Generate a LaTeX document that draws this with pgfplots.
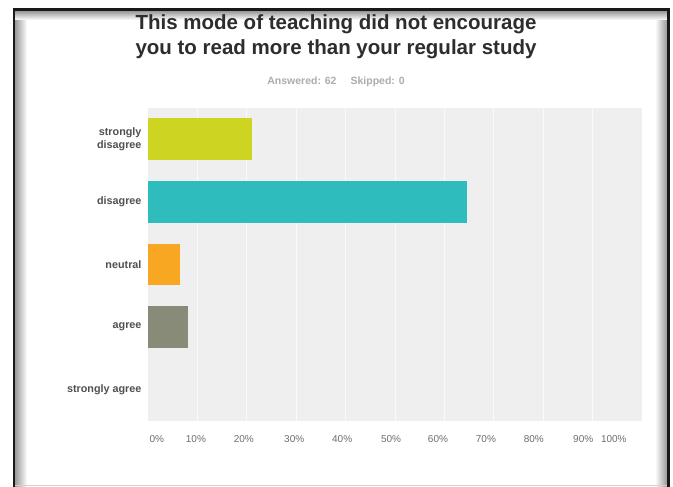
\documentclass[border=0pt]{standalone}
\usepackage{pgfplots}
\pgfplotsset{compat=1.18}
\usepackage{fontspec}
\setmainfont{Liberation Sans}
\definecolor{sdis}{RGB}{205,212,34}
\definecolor{dis}{RGB}{47,188,188}
\definecolor{neu}{RGB}{247,167,33}
\definecolor{agr}{RGB}{137,139,121}
\definecolor{plotbg}{RGB}{239,239,239}
\definecolor{gridc}{RGB}{250,250,250}
\definecolor{titlec}{RGB}{45,45,45}
\definecolor{labc}{RGB}{80,80,80}
\definecolor{tickc}{RGB}{110,110,110}
\begin{document}
\begin{tikzpicture}[x=1pt,y=1pt]
\useasboundingbox (0,0) rectangle (673,487);
\fill[white] (0,0) rectangle (673,487);
% frame with inner shadow
\shade[left color=black!40, right color=white] (15,0) rectangle (27,476);
\shade[left color=white, right color=black!40] (655,0) rectangle (667,476);
\shade[top color=black!40, bottom color=white] (15,467) rectangle (667,476);
\draw[gray!35, line width=1pt] (15,1.5) -- (667,1.5);
\draw[line width=2.5pt, black!90] (14,0) -- (14,477.5) -- (668.5,477.5) -- (668.5,0);
% titles
\node[align=center, font=\bfseries\fontsize{20.5}{24.5}\selectfont, text=titlec] at (336,450) {This mode of teaching did not encourage\\you to read more than your regular study};
\node[font=\bfseries\fontsize{10.5}{12}\selectfont, text=gray!65] at (336,405) {Answered: 62\hspace{14pt}Skipped: 0};
\begin{axis}[
  at={(148pt,66pt)}, anchor=south west,
  scale only axis, width=494pt, height=313pt,
  xmin=0, xmax=100, ymin=-0.5, ymax=4.5,
  y dir=reverse,
  axis background/.style={fill=plotbg},
  axis line style={draw=none},
  major tick length=0pt,
  /pgf/number format/assume math mode=true,
  ytick={0,1,2,3,4},
  yticklabels={{strongly\\disagree},disagree,neutral,agree,strongly agree},
  yticklabel style={align=right, font=\bfseries\fontsize{10.8}{13}\selectfont, text=labc, xshift=-3pt},
  xtick={1.8,9.7,19.4,29.6,39.3,49.2,58.7,68.4,78.1,88.1,94.3},
  xticklabels={0\%,10\%,20\%,30\%,40\%,50\%,60\%,70\%,80\%,90\%,100\%},
  xticklabel style={font=\fontsize{10}{12}\selectfont, text=tickc, yshift=-11pt},
  extra x ticks={10,20,30,40,50,60,70,80,90},
  extra x tick labels={,,,,,,,,},
  extra x tick style={grid=major, major grid style={gridc, line width=1pt}},
  xbar, bar width=0.67, bar shift=0pt,
]
\addplot[fill=sdis, draw=none] coordinates {(20.97,0)};
\addplot[fill=dis, draw=none] coordinates {(64.52,1)};
\addplot[fill=neu, draw=none] coordinates {(6.45,2)};
\addplot[fill=agr, draw=none] coordinates {(8.06,3)};
\addplot[fill=none, draw=none] coordinates {(0,4)};
\end{axis}
\end{tikzpicture}
\end{document}
